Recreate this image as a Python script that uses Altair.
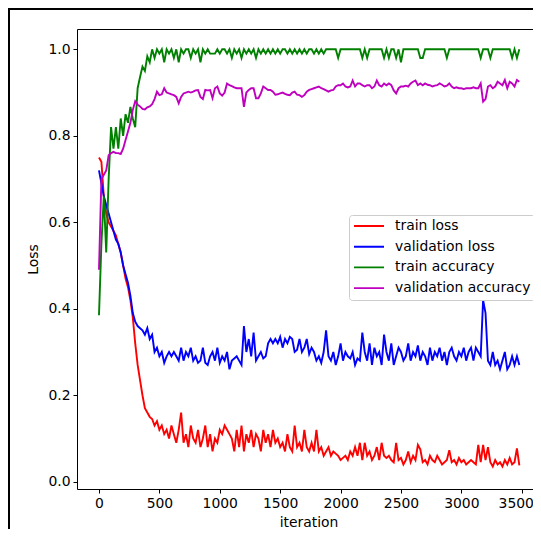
import altair as alt
import pandas as pd

STEP = 20  # iterations between logged points

train_loss = [
    0.75, 0.74, 0.66, 0.62, 0.60, 0.59, 0.58, 0.57, 0.55, 0.53,
    0.50, 0.47, 0.45, 0.42, 0.38, 0.32, 0.27, 0.235, 0.20, 0.17,
    0.16, 0.15, 0.145, 0.13, 0.14, 0.12, 0.13, 0.11, 0.12, 0.10,
    0.13, 0.11, 0.09, 0.12, 0.16, 0.09, 0.11, 0.08, 0.13, 0.10,
    0.09, 0.12, 0.08, 0.10, 0.13, 0.08, 0.11, 0.07, 0.10, 0.09,
    0.12, 0.11, 0.13, 0.12, 0.11, 0.10, 0.07, 0.12, 0.08, 0.13,
    0.07, 0.11, 0.09, 0.12, 0.08, 0.11, 0.10, 0.07, 0.12, 0.09,
    0.11, 0.08, 0.12, 0.09, 0.10, 0.08, 0.09, 0.07, 0.11, 0.08,
    0.07, 0.13, 0.08, 0.09, 0.07, 0.12, 0.08, 0.07, 0.09, 0.07,
    0.12, 0.07, 0.08, 0.06, 0.07, 0.08, 0.06, 0.07, 0.065, 0.06,
    0.05, 0.055, 0.06, 0.05, 0.07, 0.06, 0.08, 0.06, 0.09, 0.05,
    0.09, 0.06, 0.07, 0.05, 0.06, 0.08, 0.05, 0.09, 0.06, 0.055,
    0.06, 0.05, 0.045, 0.09, 0.05, 0.055, 0.04, 0.05, 0.07, 0.045,
    0.06, 0.05, 0.085, 0.075, 0.045, 0.05, 0.04, 0.06, 0.05, 0.045,
    0.06, 0.05, 0.04, 0.045, 0.05, 0.073, 0.045, 0.05, 0.04, 0.055,
    0.045, 0.05, 0.04, 0.045, 0.05, 0.045, 0.04, 0.085, 0.045, 0.085,
    0.05, 0.08, 0.045, 0.035, 0.05, 0.04, 0.045, 0.035, 0.05, 0.04,
    0.055, 0.04, 0.045, 0.077, 0.038,
]

validation_loss = [
    0.72, 0.69, 0.66, 0.64, 0.62, 0.60, 0.58, 0.56, 0.55, 0.53,
    0.50, 0.48, 0.46, 0.43, 0.39, 0.37, 0.36, 0.355, 0.35, 0.34,
    0.355, 0.33, 0.34, 0.30, 0.31, 0.29, 0.30, 0.275, 0.29, 0.30,
    0.29, 0.30, 0.29, 0.28, 0.31, 0.28, 0.30, 0.29, 0.31, 0.28,
    0.29, 0.275, 0.28, 0.31, 0.275, 0.27, 0.29, 0.30, 0.28, 0.31,
    0.275, 0.29, 0.28, 0.30, 0.26, 0.28, 0.285, 0.29, 0.28, 0.27,
    0.36, 0.30, 0.33, 0.29, 0.345, 0.28, 0.29, 0.30, 0.285, 0.29,
    0.32, 0.33, 0.32, 0.33, 0.32, 0.335, 0.31, 0.33, 0.32, 0.335,
    0.33, 0.30, 0.305, 0.33, 0.30, 0.31, 0.33, 0.295, 0.31, 0.30,
    0.28, 0.29, 0.275, 0.30, 0.35, 0.29, 0.28, 0.30, 0.27, 0.29,
    0.32, 0.28, 0.30, 0.29, 0.285, 0.30, 0.27, 0.285, 0.28, 0.345,
    0.30, 0.28, 0.32, 0.27, 0.31, 0.29, 0.30, 0.27, 0.34, 0.30,
    0.28, 0.32, 0.27, 0.29, 0.31, 0.30, 0.28, 0.29, 0.32, 0.28,
    0.30, 0.29, 0.315, 0.28, 0.30, 0.29, 0.27, 0.31, 0.28, 0.30,
    0.29, 0.31, 0.28, 0.30, 0.27, 0.30, 0.31, 0.29, 0.28, 0.30,
    0.29, 0.31, 0.28, 0.30, 0.31, 0.28, 0.31, 0.30, 0.29, 0.42,
    0.39, 0.28, 0.27, 0.30, 0.27, 0.28, 0.26, 0.28, 0.30, 0.26,
    0.27, 0.29, 0.27, 0.29, 0.27,
]

train_accuracy = [
    0.385, 0.55, 0.66, 0.53, 0.70, 0.82, 0.77, 0.82, 0.77, 0.84,
    0.80, 0.85, 0.83, 0.867, 0.84, 0.82, 0.91, 0.936, 0.96, 0.95,
    0.984, 0.97, 1.0, 0.98, 1.0, 0.99, 1.0, 0.97, 1.0, 0.99,
    1.0, 0.98, 1.0, 0.97, 1.0, 0.99, 1.0, 1.0, 0.98, 1.0,
    0.99, 1.0, 0.97, 1.0, 0.99, 1.0, 0.99, 0.99, 0.99, 1.0,
    0.99, 1.0, 1.0, 0.99, 1.0, 0.98, 1.0, 0.99, 1.0, 0.98,
    1.0, 0.99, 1.0, 0.99, 1.0, 0.98, 1.0, 0.99, 1.0, 0.99,
    1.0, 0.99, 1.0, 0.99, 1.0, 0.99, 1.0, 1.0, 0.99, 1.0,
    0.99, 1.0, 0.99, 1.0, 0.99, 1.0, 0.99, 1.0, 1.0, 0.99,
    1.0, 0.99, 1.0, 0.99, 1.0, 1.0, 1.0, 1.0, 1.0, 0.98,
    1.0, 1.0, 1.0, 1.0, 1.0, 1.0, 1.0, 1.0, 1.0, 0.98,
    1.0, 0.98, 1.0, 1.0, 1.0, 1.0, 1.0, 1.0, 0.98, 1.0,
    0.98, 1.0, 1.0, 0.98, 1.0, 0.97, 1.0, 1.0, 1.0, 1.0,
    1.0, 1.0, 1.0, 0.98, 0.98, 1.0, 1.0, 1.0, 1.0, 1.0,
    1.0, 1.0, 1.0, 1.0, 0.98, 1.0, 1.0, 1.0, 1.0, 1.0,
    1.0, 1.0, 1.0, 1.0, 1.0, 1.0, 1.0, 1.0, 0.98, 1.0,
    1.0, 1.0, 0.98, 1.0, 1.0, 1.0, 1.0, 1.0, 1.0, 1.0,
    1.0, 0.98, 1.0, 0.98, 1.0,
]

validation_accuracy = [
    0.49, 0.70, 0.71, 0.72, 0.755, 0.76, 0.763, 0.76, 0.76, 0.758,
    0.77, 0.79, 0.81, 0.83, 0.86, 0.88, 0.872, 0.868, 0.862, 0.861,
    0.866, 0.868, 0.873, 0.885, 0.902, 0.894, 0.896, 0.91, 0.90, 0.898,
    0.896, 0.894, 0.89, 0.875, 0.89, 0.898, 0.90, 0.902, 0.90, 0.902,
    0.905, 0.906, 0.89, 0.885, 0.906, 0.905, 0.906, 0.887, 0.91, 0.914,
    0.898, 0.893, 0.90, 0.921, 0.917, 0.915, 0.912, 0.91, 0.91, 0.91,
    0.867, 0.90, 0.906, 0.91, 0.91, 0.887, 0.887, 0.898, 0.914, 0.91,
    0.906, 0.906, 0.902, 0.895, 0.896, 0.898, 0.90, 0.897, 0.895, 0.894,
    0.90, 0.902, 0.895, 0.894, 0.89, 0.894, 0.902, 0.906, 0.908, 0.91,
    0.912, 0.914, 0.91, 0.908, 0.905, 0.902, 0.905, 0.906, 0.914, 0.917,
    0.917, 0.921, 0.914, 0.912, 0.914, 0.928, 0.914, 0.921, 0.921, 0.917,
    0.914, 0.917, 0.917, 0.91, 0.914, 0.928, 0.917, 0.914, 0.921, 0.917,
    0.921, 0.917, 0.905, 0.898, 0.91, 0.914, 0.914, 0.916, 0.914, 0.921,
    0.925, 0.928, 0.917, 0.921, 0.917, 0.921, 0.918, 0.917, 0.914, 0.916,
    0.917, 0.921, 0.918, 0.914, 0.916, 0.921, 0.914, 0.91, 0.912, 0.91,
    0.91, 0.908, 0.91, 0.91, 0.91, 0.912, 0.91, 0.91, 0.921, 0.879,
    0.885, 0.914, 0.917, 0.91, 0.914, 0.925, 0.921, 0.917, 0.929, 0.91,
    0.925, 0.921, 0.914, 0.929, 0.925,
]

series_names = ["train loss", "validation loss", "train accuracy", "validation accuracy"]
series_colors = ["#ff0000", "#0000ff", "#008000", "#bf00bf"]
x_ticks = [0, 500, 1000, 1500, 2000, 2500, 3000, 3500]
y_ticks = [0.0, 0.2, 0.4, 0.6, 0.8, 1.0]

rows = []
for k, (name, vals) in enumerate(zip(series_names,
                                     [train_loss, validation_loss, train_accuracy, validation_accuracy])):
    for i, v in enumerate(vals):
        rows.append({"iteration": i * STEP, "value": v, "series": name, "k": k})
df = pd.DataFrame(rows)

FONT = "DejaVu Sans"
FS = 13.9
W, H = 456, 460

lines = alt.Chart(df).mark_line(strokeWidth=1.9).encode(
    x=alt.X("iteration:Q",
            scale=alt.Scale(domain=[-182, 3593], nice=False, zero=False),
            axis=alt.Axis(values=x_ticks, format="d", title="iteration", titleX=231.5, titleY=33,
                          titleBaseline="middle", titleAlign="center",
                          labelOffset={"condition": {"test": "datum.value == 3500", "value": -6},
                                       "value": 0})),
    y=alt.Y("value:Q",
            scale=alt.Scale(domain=[-0.0169, 1.047], nice=False, zero=False),
            axis=alt.Axis(values=y_ticks, format=".1f", title="Loss", titleX=-44, titleY=230,
                          titleBaseline="middle", titleAlign="center", titleAngle=270)),
    color=alt.Color("series:N",
                    scale=alt.Scale(domain=series_names, range=series_colors),
                    legend=alt.Legend(title=None, orient="none", legendX=272, legendY=186,
                                      symbolType="stroke", symbolSize=900, symbolStrokeWidth=1.9,
                                      labelFont=FONT, labelFontSize=FS, labelColor="black",
                                      clipHeight=14, rowPadding=6.7, padding=4, labelOffset=10,
                                      labelLimit=0, strokeColor="#cccccc",
                                      fillColor="rgba(255,255,255,0.8)", cornerRadius=3)),
    order=alt.Order("k:Q"),
)

frame_src = pd.DataFrame({"a": [0]})
frame_left = alt.Chart(frame_src).mark_rule(color="black", strokeWidth=2).encode(
    x=alt.value(-68), y=alt.value(-21), y2=alt.value(500))
frame_top = alt.Chart(frame_src).mark_rule(color="black", strokeWidth=2).encode(
    x=alt.value(-69), x2=alt.value(W), y=alt.value(-20))

chart = alt.layer(frame_left, frame_top, lines).properties(
    width=W, height=H,
    padding={"left": 69, "top": 21, "right": 0, "bottom": 40},
    autosize=alt.AutoSizeParams(type="none"),
).configure(font=FONT).configure_view(
    stroke="black", strokeWidth=1
).configure_axis(
    domain=False, grid=False, tickColor="black", tickSize=4, tickWidth=1,
    labelFont=FONT, labelFontSize=FS, labelColor="black", labelPadding=3,
    titleFont=FONT, titleFontSize=FS, titleColor="black", titleFontWeight="normal",
)

chart.save("out.html", embed_options={"renderer": "svg", "actions": False})
